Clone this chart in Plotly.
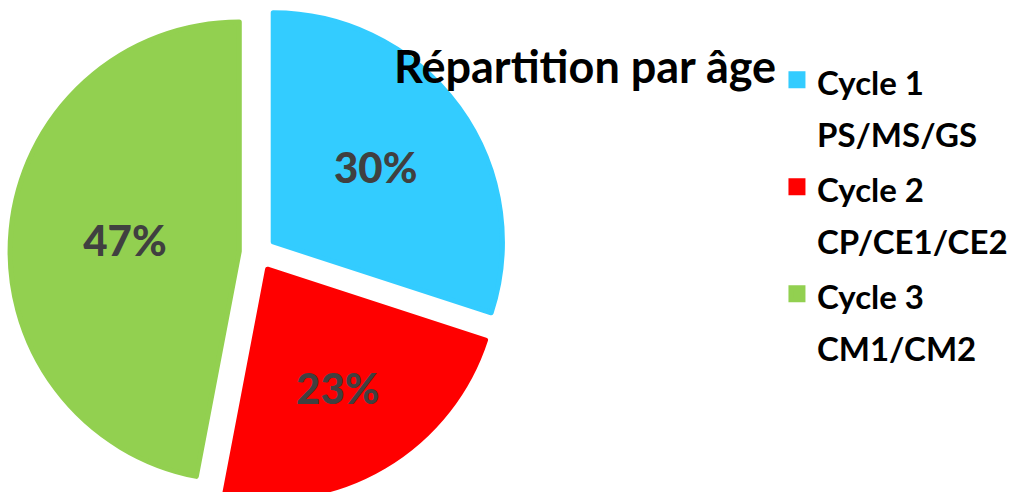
import plotly.graph_objects as go

categories = ["Cycle 1<br>PS/MS/GS", "Cycle 2<br>CP/CE1/CE2", "Cycle 3<br>CM1/CM2"]
values = [30, 23, 47]
colors = ["#33CCFF", "#FF0000", "#92D050"]
title_text = "Répartition par âge"

FONT = "Lato"

legend_labels = [
    "<span style='font-size:33px'><b>" + c.replace("<br>", "</b><br><b>") + "</b></span>"
    for c in categories
]

fig = go.Figure(
    go.Pie(
        labels=legend_labels,
        values=values,
        sort=False,
        direction="clockwise",
        rotation=0,
        pull=[0.082, 0.082, 0.082],
        marker=dict(colors=colors, line=dict(width=5, color=colors)),
        textinfo="percent",
        texttemplate="%{percent:.0%}",
        textposition="inside",
        insidetextorientation="horizontal",
        insidetextfont=dict(family=FONT, size=42, color="#404040", weight=900),
        domain=dict(x=[10 / 1031, 506 / 1031], y=[0, 1]),
        hoverinfo="label+percent",
    )
)

fig.add_annotation(
    text="<b>" + title_text + "</b>",
    xref="paper", yref="paper",
    x=0.567, y=0.878,
    xanchor="center", yanchor="middle",
    showarrow=False,
    font=dict(family=FONT, size=45, color="#000000", weight="bold"),
)

fig.update_layout(
    width=1031,
    height=506,
    margin=dict(l=0, r=0, t=5, b=5),
    paper_bgcolor="white",
    plot_bgcolor="white",
    showlegend=True,
    legend=dict(
        x=0.7536, xanchor="left",
        y=0.915, yanchor="top",
        font=dict(family=FONT, size=40, color="#000000"),
        valign="top",
        bgcolor="rgba(0,0,0,0)",
        borderwidth=0,
    ),
)

fig.write_html(
    "out.html",
    post_script="document.documentElement.style.overflow='hidden';document.body.style.overflow='hidden';",
)
